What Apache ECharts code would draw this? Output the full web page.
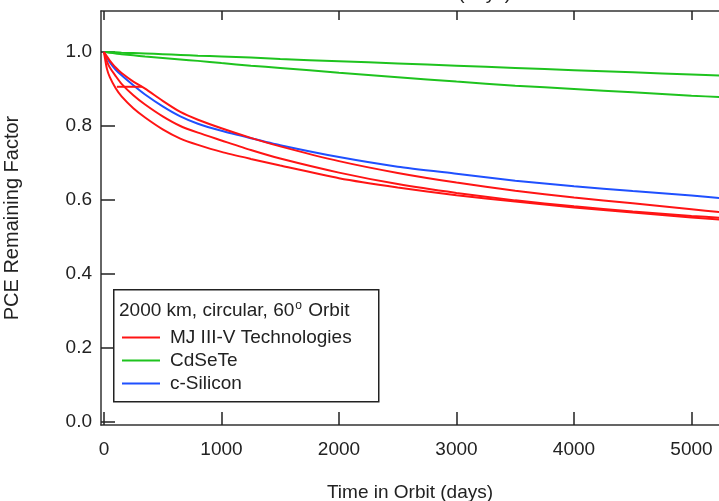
<!DOCTYPE html>
<html>
<head>
<meta charset="utf-8">
<script src="https://cdn.jsdelivr.net/npm/echarts@6/dist/echarts.min.js"></script>
<style>
  html, body { margin: 0; padding: 0; background: #fff; }
  #chart { width: 719px; height: 501px; }
</style>
</head>
<body>
<div id="chart"></div>
<script>
// Time in orbit (days) at which each curve is sampled
const days = [0, 25, 50, 100, 150, 250, 350, 500, 650, 800, 1000, 1250, 1500, 2000, 2500, 3000, 3500, 4000, 4500, 5000, 5250];

// MJ III-V technologies (three cells)
const mjA = [1.0, 0.988, 0.977, 0.958, 0.943, 0.920, 0.901, 0.868, 0.838, 0.817, 0.794, 0.768, 0.745, 0.705, 0.673, 0.647, 0.625, 0.607, 0.591, 0.575, 0.567];
const mjB = [1.0, 0.975, 0.958, 0.935, 0.914, 0.883, 0.858, 0.826, 0.800, 0.782, 0.761, 0.735, 0.712, 0.674, 0.643, 0.619, 0.599, 0.583, 0.569, 0.557, 0.552];
const mjC = [1.0, 0.955, 0.932, 0.902, 0.880, 0.848, 0.823, 0.791, 0.766, 0.749, 0.730, 0.711, 0.693, 0.659, 0.634, 0.613, 0.596, 0.580, 0.566, 0.553, 0.547];
// short flat stretch of one MJ trace just after launch
const mjStepDays = [110, 323];
const mjStep = [0.906, 0.906];

// CdSeTe (two cells)
const cdA = [1.0, 1.0, 0.999, 0.999, 0.998, 0.997, 0.996, 0.994, 0.992, 0.990, 0.988, 0.985, 0.981, 0.975, 0.969, 0.963, 0.957, 0.951, 0.945, 0.939, 0.936];
const cdB = [1.0, 0.999, 0.998, 0.996, 0.994, 0.991, 0.988, 0.984, 0.980, 0.976, 0.970, 0.963, 0.957, 0.944, 0.932, 0.920, 0.909, 0.900, 0.891, 0.882, 0.878];

// c-Silicon
const si = [1.0, 0.985, 0.972, 0.952, 0.937, 0.910, 0.885, 0.853, 0.826, 0.806, 0.787, 0.767, 0.748, 0.716, 0.690, 0.671, 0.652, 0.637, 0.624, 0.612, 0.605];

const xTicks = [0, 1000, 2000, 3000, 4000, 5000];
const yTicks = [0, 0.2, 0.4, 0.6, 0.8, 1.0];

const legendNames = ['MJ III-V Technologies', 'CdSeTe', 'c-Silicon'];
const legendTitle = '2000 km, circular, 60';
const xTitle = 'Time in Orbit (days)';
const yTitle = 'PCE Remaining Factor';

const RED = '#ff1414', GREEN = '#1ec31e', BLUE = '#1f50ff';
const FONT = 'Liberation Sans, Arial, sans-serif';
const INK = '#222';

function pairs(xs, ys) { return xs.map((d, i) => [d, ys[i]]); }
function curve(name, xs, ys, color) {
  return {
    type: 'line', name, data: pairs(xs, ys), smooth: 0.2,
    symbol: 'none', showSymbol: false, lineStyle: { color, width: 2 }, itemStyle: { color },
    emphasis: { disabled: true }, z: 3
  };
}

const chart = echarts.init(document.getElementById('chart'), null, { renderer: 'canvas' });
const axisLine = { show: true, onZero: false, lineStyle: { color: '#333', width: 1.5 } };
const tickStyle = { color: INK, width: 1.5 };
chart.setOption({
  animation: false,
  backgroundColor: '#fff',
  grid: { left: 101, top: 11, right: 0, bottom: 76, containLabel: false, outerBoundsMode: 'none' },
  xAxis: [{
    type: 'value', min: -25, max: 5234, position: 'bottom',
    axisLine, splitLine: { show: false },
    axisTick: { show: true, inside: true, length: 13, lineStyle: tickStyle, customValues: xTicks },
    axisLabel: { show: true, color: INK, fontSize: 19, fontFamily: FONT, margin: 15, customValues: xTicks,
      formatter: v => String(v) },
    name: xTitle, nameLocation: 'middle', nameGap: 58,
    nameTextStyle: { color: INK, fontSize: 19, fontFamily: FONT }
  }, {
    type: 'value', min: -25, max: 5234, position: 'top',
    axisLine, splitLine: { show: false },
    axisTick: { show: true, inside: true, length: 9, lineStyle: tickStyle, customValues: xTicks },
    axisLabel: { show: false }
  }],
  yAxis: {
    type: 'value', min: -0.0081, max: 1.1108,
    axisLine, splitLine: { show: false },
    axisTick: { show: true, inside: true, length: 14, lineStyle: tickStyle, customValues: yTicks },
    axisLabel: {
      show: true, color: INK, fontSize: 19, fontFamily: FONT, margin: 9, customValues: yTicks,
      formatter: v => v.toFixed(1)
    },
    name: yTitle, nameLocation: 'middle', nameGap: 79, nameRotate: 90,
    nameTextStyle: { color: INK, fontSize: 20, fontFamily: FONT }
  },
  legend: {
    data: legendNames, orient: 'vertical', left: 117, top: 323,
    itemWidth: 38, itemHeight: 14, itemGap: 4, z: 20,
    icon: 'path://M0,0H38V2H0Z',
    textStyle: { color: INK, fontSize: 19, fontFamily: FONT, padding: [0, 0, 0, 5] },
    selectedMode: false
  },
  graphic: [
    { type: 'rect', left: 113, top: 289, shape: { width: 265, height: 112 },
      style: { fill: '#fff', stroke: INK, lineWidth: 1.5 }, z: 1, silent: true },
    { type: 'text', left: 119, top: 300, z: 21, silent: true,
      style: {
        text: legendTitle + '{sup|o} Orbit', fill: INK, font: '19px ' + FONT,
        rich: { sup: { fontSize: 12, fontFamily: FONT, fill: INK, verticalAlign: 'top', padding: [0, 1, 10, 1] } }
      } },
    // x-axis title of the panel above, cut by the top edge
    { type: 'text', x: 428, y: 3, z: 21, silent: true,
      style: { text: xTitle, fill: INK, font: '19px ' + FONT, align: 'center', verticalAlign: 'bottom' } }
  ],
  series: [
    curve(legendNames[1], days, cdA, GREEN),
    curve(legendNames[1], days, cdB, GREEN),
    curve(legendNames[2], days, si, BLUE),
    curve(legendNames[0], days, mjA, RED),
    curve(legendNames[0], days, mjB, RED),
    curve(legendNames[0], days, mjC, RED),
    Object.assign(curve(legendNames[0], mjStepDays, mjStep, RED), { smooth: false })
  ]
});
</script>
</body>
</html>
